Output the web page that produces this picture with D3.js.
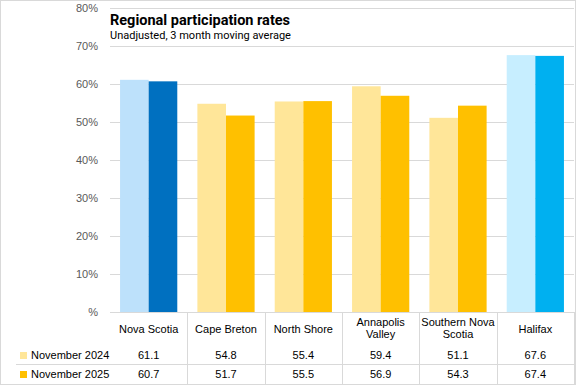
<!DOCTYPE html>
<html><head><meta charset="utf-8">
<script src="https://cdn.jsdelivr.net/npm/d3@7"></script>
<style>body{margin:0;background:#fff}svg{display:block;font-family:"Liberation Sans",Arial,sans-serif}</style>
</head><body><svg id="c" width="576" height="385"></svg>
<script>
const categories = ["Nova Scotia","Cape Breton","North Shore","Annapolis Valley","Southern Nova Scotia","Halifax"];
const categoryLines = [["Nova Scotia"],["Cape Breton"],["North Shore"],["Annapolis","Valley"],["Southern Nova","Scotia"],["Halifax"]];
const seriesNames = ["November 2024","November 2025"];
const nov2024 = [61.1,54.8,55.4,59.4,51.1,67.6];
const nov2025 = [60.7,51.7,55.5,56.9,54.3,67.4];
const yTicks = [0,10,20,30,40,50,60,70,80];
const yTickLabels = ["%","10%","20%","30%","40%","50%","60%","70%","80%"];
const colors2024 = ["#BDE1FB","#FFE699","#FFE699","#FFE699","#FFE699","#C7EEFF"];
const colors2025 = ["#0070C0","#FFC000","#FFC000","#FFC000","#FFC000","#00B0F0"];
const legendColors = ["#FFE699","#FFC000"];

const svg = d3.select("#c");
const L=110,R=574,T=8,B=312;
const x = d3.scaleBand().domain(categories).range([L,R]).paddingInner(0.26).paddingOuter(0.13);
const colX = d3.scaleBand().domain(categories).range([L,R]);
const y = d3.scaleLinear().domain([0,80]).range([B,T]);

// border
svg.append("rect").attr("x",0.5).attr("y",0.5).attr("width",575).attr("height",384).attr("fill","#fff").attr("stroke","#D9D9D9");

// gridlines
svg.append("g").selectAll("line").data(yTicks.filter(d=>d>0)).join("line")
 .attr("x1",L).attr("x2",R).attr("y1",d=>Math.round(y(d))+0.5).attr("y2",d=>Math.round(y(d))+0.5)
 .attr("stroke","#D9D9D9");

// y labels
svg.append("g").selectAll("text").data(yTicks).join("text")
 .attr("x",98).attr("y",d=>y(d)+4).attr("text-anchor","end")
 .attr("font-size",11).attr("fill","#595959").text((d,i)=>yTickLabels[i]);

// title block
svg.append("rect").attr("x",L).attr("y",12).attr("width",200).attr("height",30).attr("fill","#fff");
svg.append("text").attr("x",L).attr("y",25).attr("font-size",14.5).attr("font-weight","bold").attr("fill","#000")
 .attr("font-family","Roboto, sans-serif").text("Regional participation rates");
svg.append("text").attr("x",L).attr("y",39).attr("font-size",11).attr("fill","#000")
 .attr("font-family","Roboto, sans-serif").text("Unadjusted, 3 month moving average");

// bars
const bw = x.bandwidth()/2;
svg.append("g").selectAll("rect").data(categories).join("rect")
 .attr("x",d=>x(d)).attr("width",bw).attr("y",(d,i)=>y(nov2024[i])).attr("height",(d,i)=>B-y(nov2024[i]))
 .attr("fill",(d,i)=>colors2024[i]);
svg.append("g").selectAll("rect").data(categories).join("rect")
 .attr("x",d=>x(d)+bw).attr("width",bw).attr("y",(d,i)=>y(nov2025[i])).attr("height",(d,i)=>B-y(nov2025[i]))
 .attr("fill",(d,i)=>colors2025[i]);

// axis line
svg.append("line").attr("x1",L).attr("x2",R).attr("y1",B+0.5).attr("y2",B+0.5).attr("stroke","#D9D9D9");

// table
const rowSep = 364.5, bottom = 384;
svg.append("line").attr("x1",16).attr("x2",R).attr("y1",rowSep).attr("y2",rowSep).attr("stroke","#D9D9D9");
svg.append("g").selectAll("line").data(categories.slice(1).concat(["__end"])).join("line")
 .attr("x1",(d,i)=>Math.round(i<5?colX(d):R)+0.5).attr("x2",(d,i)=>Math.round(i<5?colX(d):R)+0.5)
 .attr("y1",B).attr("y2",bottom).attr("stroke","#D9D9D9");

const tc = svg.append("g").attr("font-size",11).attr("fill","#000").attr("text-anchor","middle");
categories.forEach((c,i)=>{
  const cx = colX(c)+colX.bandwidth()/2;
  const lines = categoryLines[i];
  const y0 = lines.length===1 ? 333 : 326;
  lines.forEach((ln,j)=>tc.append("text").attr("x",cx).attr("y",y0+j*12).text(ln));
  tc.append("text").attr("x",cx).attr("y",359).text(nov2024[i].toFixed(1));
  tc.append("text").attr("x",cx).attr("y",378).text(nov2025[i].toFixed(1));
});
// legend
[359,378].forEach((yy,k)=>{
  svg.append("rect").attr("x",20).attr("y",yy-7).attr("width",7).attr("height",7).attr("fill",legendColors[k]);
  svg.append("text").attr("x",31).attr("y",yy).attr("font-size",11).attr("fill","#000").text(seriesNames[k]);
});
</script></body></html>
